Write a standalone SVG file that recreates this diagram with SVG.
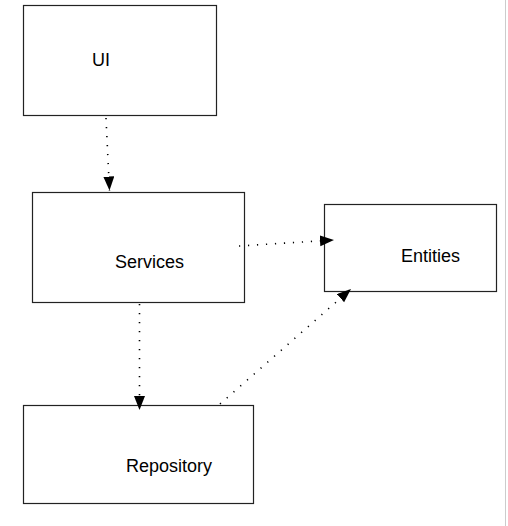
<svg xmlns="http://www.w3.org/2000/svg" width="508" height="526" viewBox="0 0 508 526">
<style>
.box{fill:#fff;stroke:#222;stroke-width:1.2}
.lbl{font-family:"Liberation Sans",Arial,sans-serif;font-size:18px;fill:#000}
.dep{fill:none;stroke:#000;stroke-width:1.6;stroke-dasharray:1.2 7.8;stroke-linecap:butt}
</style>
<defs>
<marker id="ah" markerUnits="userSpaceOnUse" markerWidth="16" markerHeight="13" refX="14" refY="5.5" orient="auto">
<path d="M0,0 L14,5.5 L0,11 z" fill="#000"/>
</marker>
</defs>
<rect x="0" y="0" width="508" height="526" fill="#fff"/>
<line x1="505.5" y1="0" x2="505.5" y2="526" stroke="#ccc" stroke-width="1"/>
<g id="ui"><rect class="box" x="23.5" y="5.5" width="193" height="110"/><text class="lbl" x="92" y="66">UI</text></g>
<g id="services"><rect class="box" x="32.5" y="192.5" width="212" height="110"/><text class="lbl" x="115" y="268">Services</text></g>
<g id="entities"><rect class="box" x="324.5" y="204.5" width="172" height="87"/><text class="lbl" x="401" y="262">Entities</text></g>
<g id="repository"><rect class="box" x="23.5" y="405.5" width="230" height="98"/><text class="lbl" x="126" y="472">Repository</text></g>
<g id="connectors">
<line class="dep" x1="106" y1="118" x2="109.5" y2="190.5" marker-end="url(#ah)"/>
<line class="dep" x1="239" y1="246" x2="334" y2="240" marker-end="url(#ah)"/>
<line class="dep" x1="139.5" y1="304" x2="139.5" y2="410" marker-end="url(#ah)"/>
<line class="dep" x1="220" y1="404" x2="351" y2="289" marker-end="url(#ah)"/>
</g>
</svg>
